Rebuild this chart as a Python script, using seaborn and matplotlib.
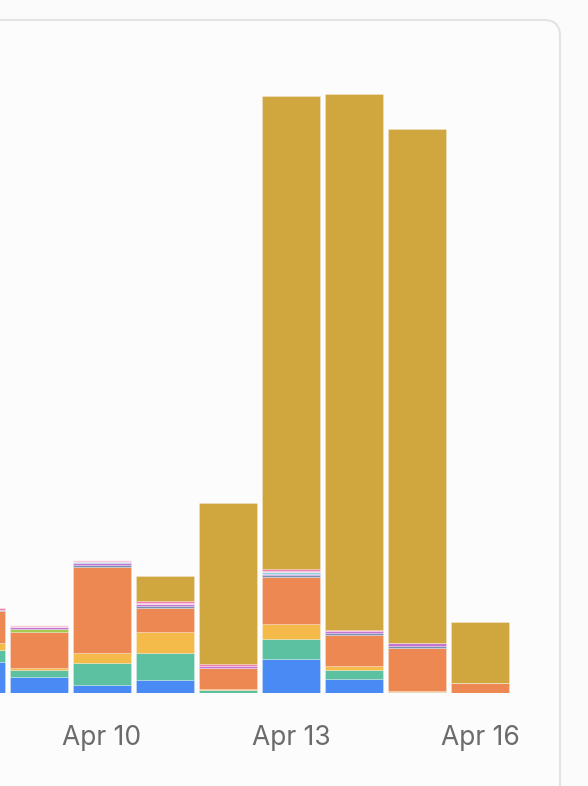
import matplotlib
matplotlib.use("Agg")
import matplotlib.pyplot as plt
from matplotlib.patches import FancyBboxPatch
import seaborn as sns
import pandas as pd

# ---- data (arbitrary units) ----
days = [8, 9, 10, 11, 12, 13, 14, 15, 16]          # April day numbers
tick_days = [10, 13, 16]
tick_labels = ["Apr 10", "Apr 13", "Apr 16"]

series_names = ["blue", "teal", "yellow", "orange", "lime", "slate",
                "purple", "cyan", "lightpink", "pink", "gold"]
blue      = [310, 163,  80, 130,    0,  337,  143,   10,   0]
teal      = [125,  70, 223, 273,   27,  207,   87,    5,   0]
yellow    = [ 65,  17, 100, 203,   13,  147,   40,   10,   0]
orange    = [320, 357, 860, 247,  213,  473,  313,  427, 100]
lime      = [  0,  33,   0,   0,    0,    0,    0,    0,   0]
slate     = [ 15,   0,  13,  13,    0,   13,   17,   20,   0]
purple    = [  0,  23,  20,  23,   20,   17,   20,   27,   0]
cyan      = [  0,   0,  17,   0,    0,   17,    0,    0,   0]
lightpink = [  0,  17,  17,  13,    0,   13,    0,    0,   0]
pink      = [ 20,   0,   0,  20,   13,   17,   10,    0,   0]
gold      = [  0,   0,   0, 253, 1613, 4730, 5360, 5143, 607]

colors = {"blue": "#4a8af4", "teal": "#5cc1a0", "yellow": "#f4bb4b",
          "orange": "#ee8852", "lime": "#a3c94f", "slate": "#7b8fb0",
          "purple": "#c474d4", "cyan": "#8fd3e3", "lightpink": "#f7c9dc",
          "pink": "#f27fb2", "gold": "#d0a63e"}

values = [blue, teal, yellow, orange, lime, slate, purple, cyan,
          lightpink, pink, gold]
rows = []
for name, vals in zip(series_names, values):
    for d, v in zip(days, vals):
        rows.append({"day": d, "series": name, "value": v})
df = pd.DataFrame(rows)

# ---- figure ----
W, H = 588, 786
fig = plt.figure(figsize=(W / 100, H / 100), dpi=100)
fig.patch.set_facecolor("#fbfbfb")

# card with rounded corner (display/pixel coordinates)
card = FancyBboxPatch((-100, -100), 660, 866,
                      boxstyle="round,pad=0,rounding_size=16",
                      transform=None, facecolor="#fcfcfc",
                      edgecolor="#e3e3e3", linewidth=1.5, zorder=0)
fig.add_artist(card)

ax_bottom = 693
ax_top = 60
ax = fig.add_axes([0, (H - ax_bottom) / H, 540 / W, (ax_bottom - ax_top) / H])
ax.set_facecolor("none")

sns.histplot(data=df, x="day", weights="value", hue="series",
             hue_order=series_names[::-1], palette=colors,
             multiple="stack", discrete=True, shrink=0.905,
             alpha=1, edgecolor=(1, 1, 1, 0.3), linewidth=0.6,
             legend=False, ax=ax)

# x: Apr 8 centre sits 24 px left of the figure edge, 63 px per day
ax.set_xlim(8 + 24 / 63, 8 + 564 / 63)
ax.set_ylim(0, (ax_bottom - ax_top) * 10)

ax.set_xticks(tick_days)
ax.set_xticklabels(tick_labels, fontfamily="Inter", fontsize=19,
                   color="#6b6b6b")
ax.tick_params(axis="x", length=0, pad=23)
ax.set_yticks([])
ax.set_xlabel("")
ax.set_ylabel("")
for s in ax.spines.values():
    s.set_visible(False)

fig.savefig("out.png", dpi=100, facecolor=fig.get_facecolor())
